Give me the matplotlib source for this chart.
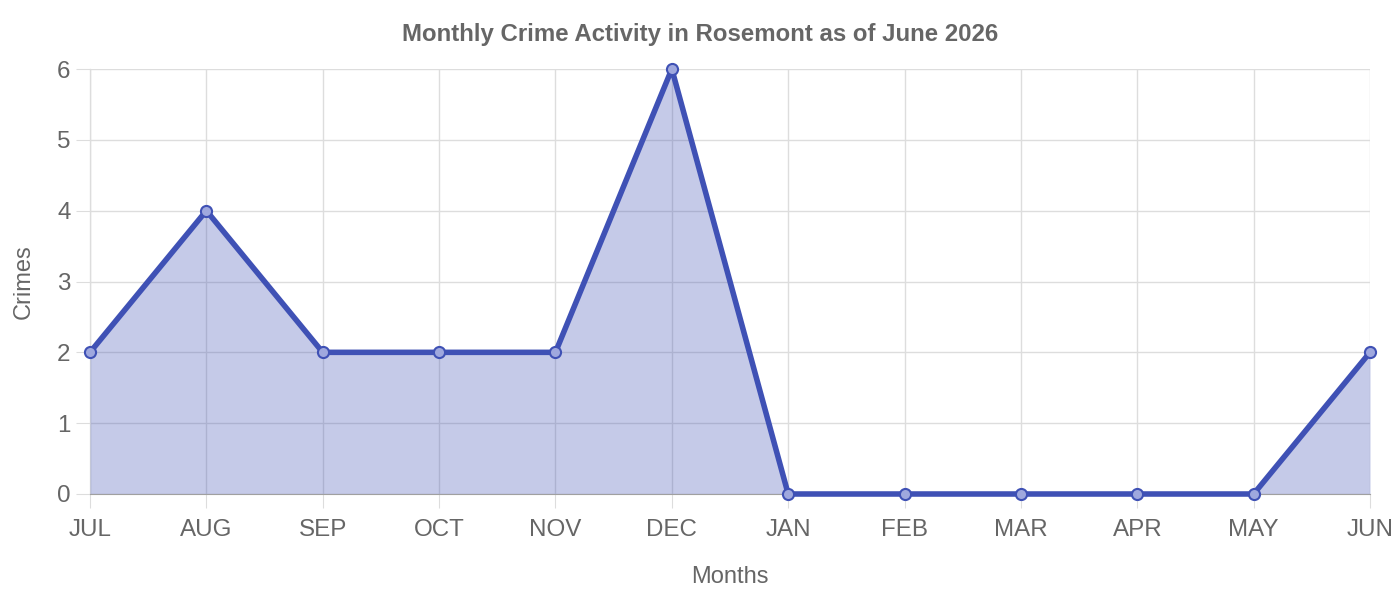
import numpy as np
import matplotlib.pyplot as plt

plt.rcParams['font.family'] = ['Liberation Sans', 'DejaVu Sans']

months = ['JUL', 'AUG', 'SEP', 'OCT', 'NOV', 'DEC', 'JAN', 'FEB', 'MAR', 'APR', 'MAY', 'JUN']
crimes = [2, 4, 2, 2, 2, 6, 0, 0, 0, 0, 0, 2]

line_col = '#3f51b5'
text_col = '#666666'
grid_col = '#dddddd'

fig = plt.figure(figsize=(14, 6), dpi=100)
ax = fig.add_axes([90 / 1400, 1 - 494 / 600, 1280 / 1400, 425 / 600])

x = np.arange(len(months))
ax.fill_between(x, crimes, 0, color=line_col, alpha=0.3, linewidth=0, zorder=2)
ax.plot(x, crimes, color=line_col, linewidth=4, zorder=3, clip_on=False)
ax.plot(x, crimes, 'o', markersize=8, markerfacecolor='#9fa8de',
        markeredgecolor=line_col, markeredgewidth=1.5, zorder=4, clip_on=False)

ax.set_xlim(0, len(months) - 1)
ax.set_ylim(0, 6)
ax.set_xticks(x)
ax.set_xticklabels(months)
ax.set_yticks(range(7))

ax.grid(True, color=grid_col, linewidth=1, zorder=0)
ax.tick_params(axis='both', length=10, color=grid_col, labelcolor=text_col,
               labelsize=17.4)
ax.tick_params(axis='x', pad=8)
ax.tick_params(axis='y', pad=4)
for s in ['top', 'right']:
    ax.spines[s].set_visible(False)
ax.spines['left'].set_color('#a0a0a0')
ax.spines['bottom'].set_color('#a0a0a0')
ax.spines['left'].set_zorder(1)

ax.set_xlabel('Months', fontsize=17, color=text_col, labelpad=18)
ax.set_ylabel('Crimes', fontsize=17, color=text_col, labelpad=16)
fig.suptitle('Monthly Crime Activity in Rosemont as of June 2026', x=0.5, y=1 - 34 / 600,
             va='center', fontsize=17.3, fontweight='bold', color=text_col)

fig.savefig('out.png', dpi=100)
